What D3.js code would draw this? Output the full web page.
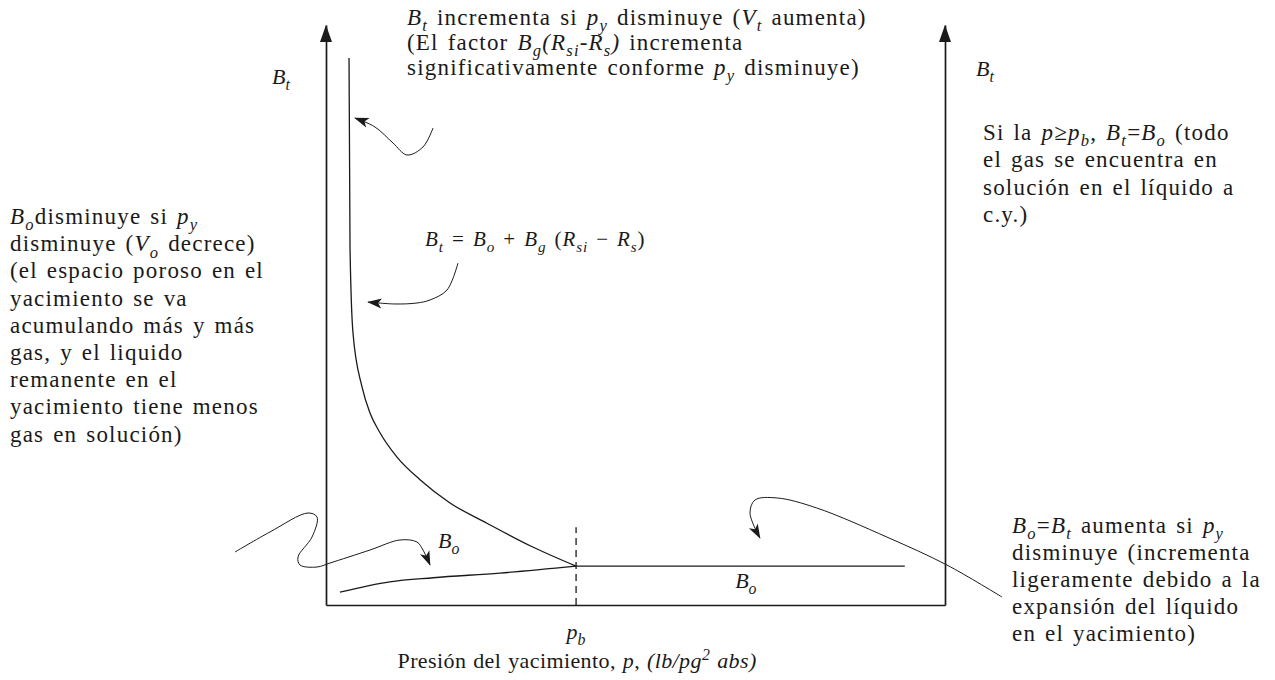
<!DOCTYPE html>
<html>
<head>
<meta charset="utf-8">
<script src="https://cdn.jsdelivr.net/npm/d3@7"></script>
<style>
  html, body { margin: 0; padding: 0; background: #fff; }
  svg { display: block; }
  text, tspan { font-family: "Liberation Serif", serif; }
</style>
</head>
<body>
<svg id="chart" width="1275" height="680"></svg>
<script>
// ---- data (pressure and volume-factor in relative chart units, 0–100) ----
const pb = 40.4;                       // bubble-point pressure

// Bt below the bubble point (two-phase formation volume factor)
const btPressure = [3.72, 3.88, 4.36, 5.82, 7.11, 8.72, 11.47, 15.19, 20.03, 26.0, 33.4, 40.4];
const btValue    = [94.3, 61.7, 46.9, 37.6, 33.1, 29.7, 25.5, 21.6, 17.6, 14.1, 10.0, 6.7];

// Bo below the bubble point
const boPressure = [2.26, 10.3, 17.3, 28.1, 40.4];
const boValue    = [2.2, 4.0, 4.7, 5.5, 6.7];

// Bo = Bt above the bubble point
const boAbovePressure = [40.4, 93.5];
const boAboveValue    = [6.7, 6.7];

// Callout arrows (same chart units)
const calloutTopX = [17.29, 15.67, 13.09, 10.82, 7.92, 4.68];
const calloutTopY = [82.24, 78.97, 77.59, 79.66, 82.41, 83.97];
const calloutEqX  = [21.32, 19.55, 16.80, 14.70, 11.15, 6.79];
const calloutEqY  = [58.97, 54.31, 52.59, 52.07, 51.90, 52.24];
const calloutBoX  = [-14.70, -9.05, -2.91, -1.45, -2.26, -4.52, -4.20, -1.45, 0.65, 7.11, 11.95, 14.70, 15.67, 16.80];
const calloutBoY  = [9.14, 12.59, 15.86, 15.17, 11.72, 8.28, 6.90, 6.55, 7.24, 9.48, 11.21, 10.86, 9.48, 6.90];
const calloutRtX  = [109.2, 100.3, 90.6, 79.3, 72.9, 69.3, 68.5, 70.1];
const calloutRtY  = [1.38, 6.90, 11.72, 16.72, 18.45, 18.10, 15.86, 11.55];

// Text blocks (markup: *x* italic, _{x} subscript, ^{x} superscript)
const topNote = [
  "*B*_{t} incrementa si *p*_{y} disminuye (*V*_{t} aumenta)",
  "(El factor *B*_{g}*(R*_{si}*-R*_{s}*)* incrementa",
  "significativamente conforme *p*_{y} disminuye)"
];
const leftNote = [
  "*B*_{o}disminuye si *p*_{y}",
  "disminuye (*V*_{o} decrece)",
  "(el espacio poroso en el",
  "yacimiento se va",
  "acumulando más y más",
  "gas, y el liquido",
  "remanente en el",
  "yacimiento tiene menos",
  "gas en solución)"
];
const rightNote = [
  "Si la *p≥p*_{b}, *B*_{t}=*B*_{o} (todo",
  "el gas se encuentra en",
  "solución en el líquido a",
  "c.y.)"
];
const bottomNote = [
  "*B*_{o}=*B*_{t} aumenta si *p*_{y}",
  "disminuye (incrementa",
  "ligeramente debido a la",
  "expansión del líquido",
  "en el yacimiento)"
];
const xTitle = "Presión del yacimiento, *p*, *(lb/pg*^{2}* abs)*";
const equation = "*B*_{t} = *B*_{o} + *B*_{g} (*R*_{si} − *R*_{s})";

// ---- layout ----
const svg = d3.select("#chart");
const x = d3.scaleLinear().domain([0, 100]).range([326, 945]);
const y = d3.scaleLinear().domain([0, 100]).range([605, 25]);
const ink = "#1a1a1a";
const serif = "Liberation Serif";

// arrowhead marker for callouts
svg.append("defs").append("marker")
  .attr("id", "head")
  .attr("viewBox", "0 -6 16 12")
  .attr("refX", 15).attr("refY", 0)
  .attr("markerUnits", "userSpaceOnUse")
  .attr("markerWidth", 15).attr("markerHeight", 11)
  .attr("orient", "auto")
  .append("path").attr("d", "M0,-5.5L16,0L0,5.5L4,0Z").attr("fill", ink);

// axes: left, right and bottom lines without ticks
const axisStyle = g => {
  g.selectAll(".domain").attr("stroke", ink).attr("stroke-width", 1.7);
};
svg.append("g").attr("transform", `translate(${x(0)},0)`)
  .call(d3.axisLeft(y).tickValues([]).tickSizeOuter(0)).call(axisStyle);
svg.append("g").attr("transform", `translate(${x(100)},0)`)
  .call(d3.axisRight(y).tickValues([]).tickSizeOuter(0)).call(axisStyle);
svg.append("g").attr("transform", `translate(0,${y(0)})`)
  .call(d3.axisBottom(x).tickValues([]).tickSizeOuter(0)).call(axisStyle);

// arrow tips on the vertical axes
[0, 100].forEach(v => {
  const cx = x(v), ty = y(100);
  svg.append("path")
    .attr("d", `M${cx},${ty}L${cx - 6},${ty + 17}L${cx + 6},${ty + 17}Z`)
    .attr("fill", ink);
});

// curves
const line = d3.line().x(d => x(d[0])).y(d => y(d[1]));
const zip = (a, b) => a.map((v, i) => [v, b[i]]);

svg.append("path")
  .attr("d", line.curve(d3.curveMonotoneX)(zip(btPressure, btValue)))
  .attr("fill", "none").attr("stroke", ink).attr("stroke-width", 1.3);
svg.append("path")
  .attr("d", line.curve(d3.curveMonotoneX)(zip(boPressure, boValue)))
  .attr("fill", "none").attr("stroke", ink).attr("stroke-width", 1.3);
svg.append("path")
  .attr("d", line.curve(d3.curveLinear)(zip(boAbovePressure, boAboveValue)))
  .attr("fill", "none").attr("stroke", ink).attr("stroke-width", 1.3);

// bubble-point marker
svg.append("line")
  .attr("x1", x(pb)).attr("x2", x(pb))
  .attr("y1", y(0)).attr("y2", y(13.4))
  .attr("stroke", ink).attr("stroke-width", 1.3)
  .attr("stroke-dasharray", "7,5");

// callout arrows
[[calloutTopX, calloutTopY], [calloutEqX, calloutEqY],
 [calloutBoX, calloutBoY], [calloutRtX, calloutRtY]].forEach(([cx, cy]) => {
  svg.append("path")
    .attr("d", line.curve(d3.curveCatmullRom.alpha(0.5))(zip(cx, cy)))
    .attr("fill", "none").attr("stroke", ink).attr("stroke-width", 1)
    .attr("marker-end", "url(#head)");
});

// rich text helper
function parseRuns(s) {
  const runs = [];
  const re = /\*([^*]*)\*|_\{([^}]*)\}|\^\{([^}]*)\}|([^*_^]+)/g;
  let m;
  while ((m = re.exec(s)) !== null) {
    if (m[1] !== undefined) runs.push({ t: m[1], it: true });
    else if (m[2] !== undefined) runs.push({ t: m[2], it: true, sub: true });
    else if (m[3] !== undefined) runs.push({ t: m[3], it: true, sup: true });
    else runs.push({ t: m[4] });
  }
  return runs;
}
function richText(g, str, px, py, size, anchor, spacing, wordGap) {
  const t = g.append("text").attr("x", px).attr("y", py)
    .attr("font-family", serif).attr("fill", ink)
    .attr("font-size", size).attr("text-anchor", anchor || "start")
    .attr("letter-spacing", spacing || 0)
    .attr("word-spacing", wordGap || 0)
    .style("white-space", "pre");
  let shift = 0;
  parseRuns(str).forEach(r => {
    const target = r.sub ? size * 0.28 : r.sup ? -size * 0.38 : 0;
    t.append("tspan").text(r.t).attr("dy", target - shift)
      .attr("font-family", serif)
      .attr("font-size", (r.sub || r.sup) ? size * 0.72 : size)
      .attr("font-style", r.it ? "italic" : "normal");
    shift = target;
  });
  return t;
}
function block(lines, px, py0, step, size, spacing, wordGap) {
  const g = svg.append("g");
  lines.forEach((l, i) => richText(g, l, px, py0 + i * step, size, "start", spacing, wordGap));
}

const fs = 23;
const ls = 1.2;
const ws = 2;
block(topNote, 407, 25, 25, fs, ls, ws);
block(leftNote, 10, 224, 27.2, fs, ls, ws);
block(rightNote, 983, 140, 27.4, fs, ls, ws);
block(bottomNote, 1012, 533, 27, fs, ls, ws);

// axis labels
const lab = svg.append("g");
richText(lab, "*B*_{t}", 272, 84, 22);
richText(lab, "*B*_{t}", 976, 76, 22);
richText(lab, "*p*_{b}", x(pb), 639, 22, "middle");
richText(lab, xTitle, x(pb) + 1, 668, 22, "middle", 0.4, 1);

// curve labels
richText(lab, "*B*_{o}", x(18.1), y(9.8), 22);
richText(lab, "*B*_{o}", x(66.1), y(2.9), 22);
richText(lab, equation, 425, 246, 21, "start", 0.9, 2);
</script>
</body>
</html>
